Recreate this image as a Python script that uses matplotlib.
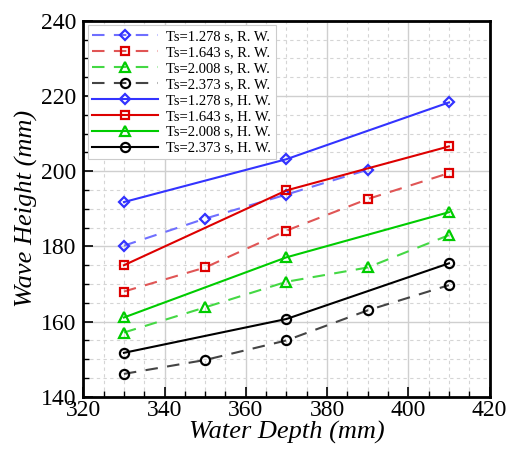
import matplotlib

matplotlib.use("Agg")

import numpy as np
from matplotlib import pyplot as plt
from matplotlib.ticker import MultipleLocator

plt.rcParams.update(
    {
        "font.family": "serif",
        "font.serif": ["Liberation Serif", "DejaVu Serif"],
        "xtick.direction": "in",
        "ytick.direction": "in",
    }
)

# regular waves (R. W.), dashed
rw_depth = [330, 350, 370, 390, 410]
rw_depth_1278 = [330, 350, 370, 390]
rw_1278 = [180.2, 187.4, 193.8, 200.4]
rw_1643 = [168.0, 174.4, 184.2, 192.6, 199.5]
rw_2008 = [157.1, 163.8, 170.6, 174.4, 183.0]
rw_2373 = [146.1, 149.8, 155.0, 163.0, 169.7]

# H. W., solid
hw_depth = [330, 370, 410]
hw_1278 = [191.8, 203.2, 218.3]
hw_1643 = [175.0, 194.9, 206.6]
hw_2008 = [161.1, 177.1, 189.1]
hw_2373 = [151.7, 160.7, 175.5]

periods = ["1.278", "1.643", "2.008", "2.373"]
full_colors = ["#3333ff", "#dd0000", "#00cc00", "#000000"]
light_colors = ["#6f6fff", "#e05555", "#44d844", "#444444"]
markers = ["D", "s", "^", "o"]
marker_sizes = [5.6, 6.4, 7.0, 6.6]

fig = plt.figure(figsize=(5.11, 4.53), dpi=100)
ax = fig.add_axes([0.163, 0.124, 0.795, 0.830])

rw_series = [(rw_depth_1278, rw_1278), (rw_depth, rw_1643), (rw_depth, rw_2008), (rw_depth, rw_2373)]
for (xs, ys), ts, fc, lc, m, ms in zip(rw_series, periods, full_colors, light_colors, markers, marker_sizes):
    ax.plot(xs, ys, linestyle=(0, (6, 4.5)), color=lc, linewidth=1.5,
            marker=m, markersize=ms, markerfacecolor="none", markeredgecolor=fc,
            markeredgewidth=1.6, label=f"Ts={ts} s, R. W.", zorder=3)

hw_series = [hw_1278, hw_1643, hw_2008, hw_2373]
for ys, ts, fc, m, ms in zip(hw_series, periods, full_colors, markers, marker_sizes):
    ax.plot(hw_depth, ys, linestyle="-", color=fc, linewidth=1.5,
            marker=m, markersize=ms, markerfacecolor="none", markeredgecolor=fc,
            markeredgewidth=1.6, label=f"Ts={ts} s, H. W.", zorder=3)

ax.set_xlim(320, 420)
ax.set_ylim(140, 240)
ax.xaxis.set_major_locator(MultipleLocator(20))
ax.yaxis.set_major_locator(MultipleLocator(20))
ax.xaxis.set_minor_locator(MultipleLocator(5))
ax.yaxis.set_minor_locator(MultipleLocator(5))
ax.grid(which="major", color="#cfcfcf", linewidth=1.0, linestyle="-", zorder=0)
ax.grid(which="minor", color="#d5d5d5", linewidth=0.8, linestyle=(0, (3, 3)), zorder=0)
ax.set_axisbelow(True)

ax.tick_params(which="major", length=7, width=1.2, labelsize=17, pad=2)
ax.tick_params(axis="y", which="major", pad=5)
ax.tick_params(which="minor", length=4, width=1.0)
ax.tick_params(axis="both", which="both", top=False, right=False)
for side in ax.spines.values():
    side.set_linewidth(2.0)

ax.set_xlabel("Water Depth (mm)", fontsize=19, style="italic", labelpad=0)
ax.set_ylabel("Wave Height (mm)", fontsize=19, style="italic", labelpad=2)

leg = ax.legend(loc="upper left", fontsize=10.5, handlelength=4.5, handletextpad=0.6,
                labelspacing=0.19, borderaxespad=0.3, borderpad=0.3,
                fancybox=False, framealpha=1.0, edgecolor="#cccccc")
leg.get_frame().set_linewidth(0.8)
leg.set_zorder(2.5)

fig.savefig("out.png", dpi=100)
